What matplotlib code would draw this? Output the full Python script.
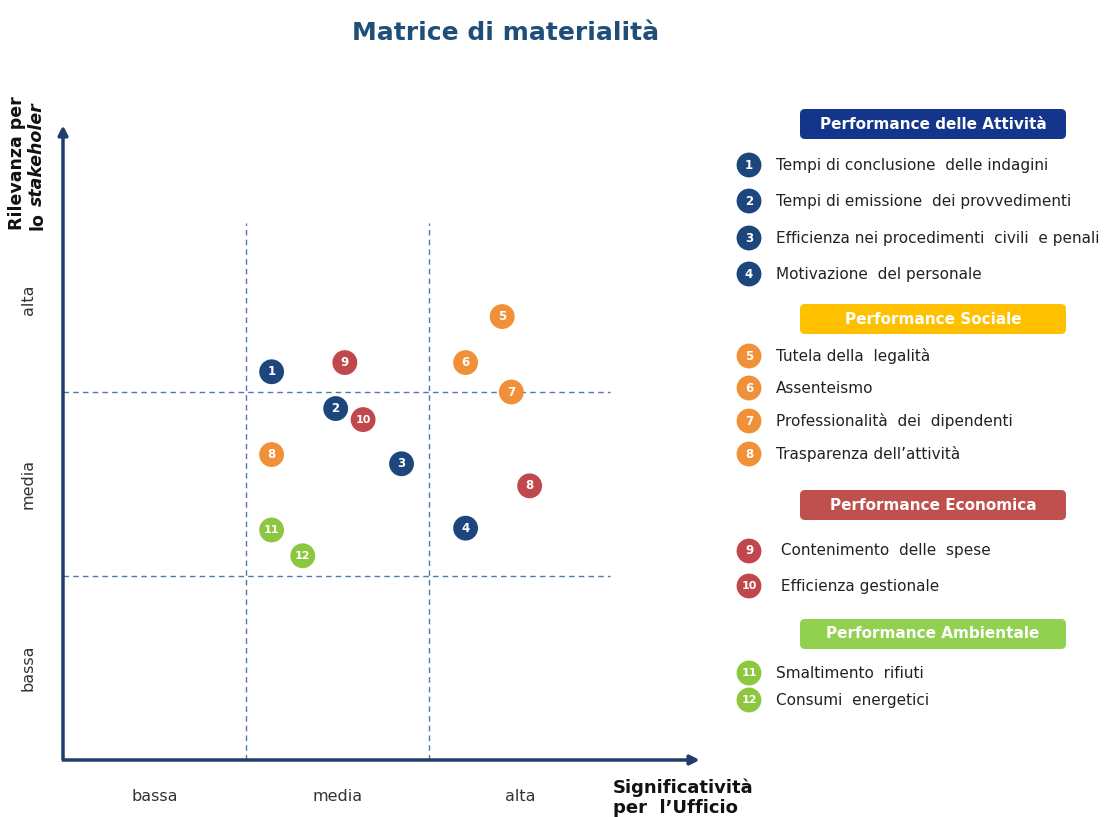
import numpy as np
import matplotlib.pyplot as plt
from matplotlib.patches import FancyBboxPatch

# materiality points: id, significance for the office (x), relevance for stakeholders (y)
point_ids = ['1', '2', '3', '4', '5', '6', '7', '8', '8', '9', '10', '11', '12']
point_x = [1.14, 1.49, 1.85, 2.20, 2.40, 2.20, 2.45, 1.14, 2.55, 1.54, 1.64, 1.14, 1.31]
point_y = [2.11, 1.91, 1.61, 1.26, 2.41, 2.16, 2.00, 1.66, 1.49, 2.16, 1.85, 1.25, 1.11]
point_group = [0, 0, 0, 0, 1, 1, 1, 1, 2, 2, 2, 3, 3]

levels = ['bassa', 'media', 'alta']

group_names = ['Performance delle Attività', 'Performance Sociale',
               'Performance Economica', 'Performance Ambientale']
group_box_colors = ['#13358c', '#ffc000', '#c0504d', '#92d050']
group_dot_colors = ['#1d477c', '#f0913a', '#c0474b', '#8dc63f']

item_ids = ['1', '2', '3', '4', '5', '6', '7', '8', '9', '10', '11', '12']
item_group = [0, 0, 0, 0, 1, 1, 1, 1, 2, 2, 3, 3]
item_labels = ['Tempi di conclusione  delle indagini',
               'Tempi di emissione  dei provvedimenti',
               'Efficienza nei procedimenti  civili  e penali',
               'Motivazione  del personale',
               'Tutela della  legalità',
               'Assenteismo',
               'Professionalità  dei  dipendenti',
               'Trasparenza dell\u2019attività',
               ' Contenimento  delle  spese',
               ' Efficienza gestionale',
               'Smaltimento  rifiuti',
               'Consumi  energetici']

W, H = 1107, 817
fig = plt.figure(figsize=(W / 100, H / 100), dpi=100)

# overlay in pixel space for title, legend and labels
ov = fig.add_axes([0, 0, 1, 1])
ov.set_xlim(0, W)
ov.set_ylim(H, 0)
ov.axis('off')

# main matrix axes: data (0,0) at pixel (63,760), 1 unit = 183 px x, 184 px y
x0, y0, ux, uy = 63, 760, 183, 184
xlo, xhi, ylo, yhi = -0.1, 3.6, -0.1, 3.6
ax = fig.add_axes([(x0 + xlo * ux) / W, (H - y0 + ylo * uy) / H,
                   (xhi - xlo) * ux / W, (yhi - ylo) * uy / H])
ax.set_xlim(xlo, xhi)
ax.set_ylim(ylo, yhi)
ax.axis('off')
ax.patch.set_alpha(0)

axis_col = '#1f3e6a'
dash_col = '#5278a8'
for v in [1, 2]:
    ax.plot([v, v], [0, 2.92], ls=(0, (4, 3)), lw=1, color=dash_col)
    ax.plot([0, 2.99], [v, v], ls=(0, (4, 3)), lw=1, color=dash_col)

ax.annotate('', xy=(0, 3.45), xytext=(0, 0),
            arrowprops=dict(arrowstyle='-|>', lw=2.5, color=axis_col, mutation_scale=14,
                            shrinkA=0, shrinkB=0, capstyle='butt'))
ax.annotate('', xy=(3.48, 0), xytext=(-0.007, 0),
            arrowprops=dict(arrowstyle='-|>', lw=2.5, color=axis_col, mutation_scale=14,
                            shrinkA=0, shrinkB=0, capstyle='butt'))

for i, lab in enumerate(levels):
    ax.text(i + 0.5, -0.2, lab, ha='center', va='center', fontsize=11.5, color='#333333')
    ax.text(-0.19, i + 0.5, lab, ha='center', va='center', rotation=90,
            fontsize=11.5, color='#333333')

cols = [group_dot_colors[g] for g in point_group]
ax.scatter(point_x, point_y, s=320, c=cols, edgecolors='none', zorder=3)
for px, py, pid in zip(point_x, point_y, point_ids):
    ax.text(px, py, pid, ha='center', va='center', color='white', fontweight='bold',
            fontsize=8.5 if len(pid) == 1 else 8, zorder=4)

# title and axis names
ov.text(506, 33, 'Matrice di materialità', ha='center', va='center', fontsize=18,
        fontweight='bold', color='#1f4e79')
ov.text(17, 230, 'Rilevanza per', rotation=90, ha='center', va='bottom',
        fontsize=12.5, fontweight='bold', color='#111111')
ov.text(37, 230, 'lo', rotation=90, ha='center', va='bottom',
        fontsize=12.5, fontweight='bold', color='#111111')
ov.text(37, 206, 'stakeholer', rotation=90, ha='center', va='bottom',
        fontsize=12.5, fontweight='bold', style='italic', color='#111111')
ov.text(613, 788, 'Significatività', ha='left', va='center', fontsize=13,
        fontweight='bold', color='#111111')
ov.text(613, 808, 'per  l\u2019Ufficio', ha='left', va='center', fontsize=13,
        fontweight='bold', color='#111111')

# legend
box_y = [124, 319, 505, 634]
item_y = [165, 201, 238, 274, 356, 388, 421, 454, 551, 586, 673, 700]
for g, name in enumerate(group_names):
    ov.add_patch(FancyBboxPatch((800, box_y[g] - 15), 266, 30,
                                boxstyle='round,pad=0,rounding_size=5',
                                fc=group_box_colors[g], ec='none'))
    ov.text(933, box_y[g], name, ha='center', va='center', fontsize=11,
            fontweight='bold', color='white')

ov.scatter([749] * len(item_ids), item_y, s=320,
           c=[group_dot_colors[g] for g in item_group], edgecolors='none')
for iy, iid, lab in zip(item_y, item_ids, item_labels):
    ov.text(749, iy, iid, ha='center', va='center', color='white', fontweight='bold',
            fontsize=8.5 if len(iid) == 1 else 8)
    ov.text(776, iy, lab, ha='left', va='center', fontsize=11, color='#222222')

fig.savefig('out.png', dpi=100)
